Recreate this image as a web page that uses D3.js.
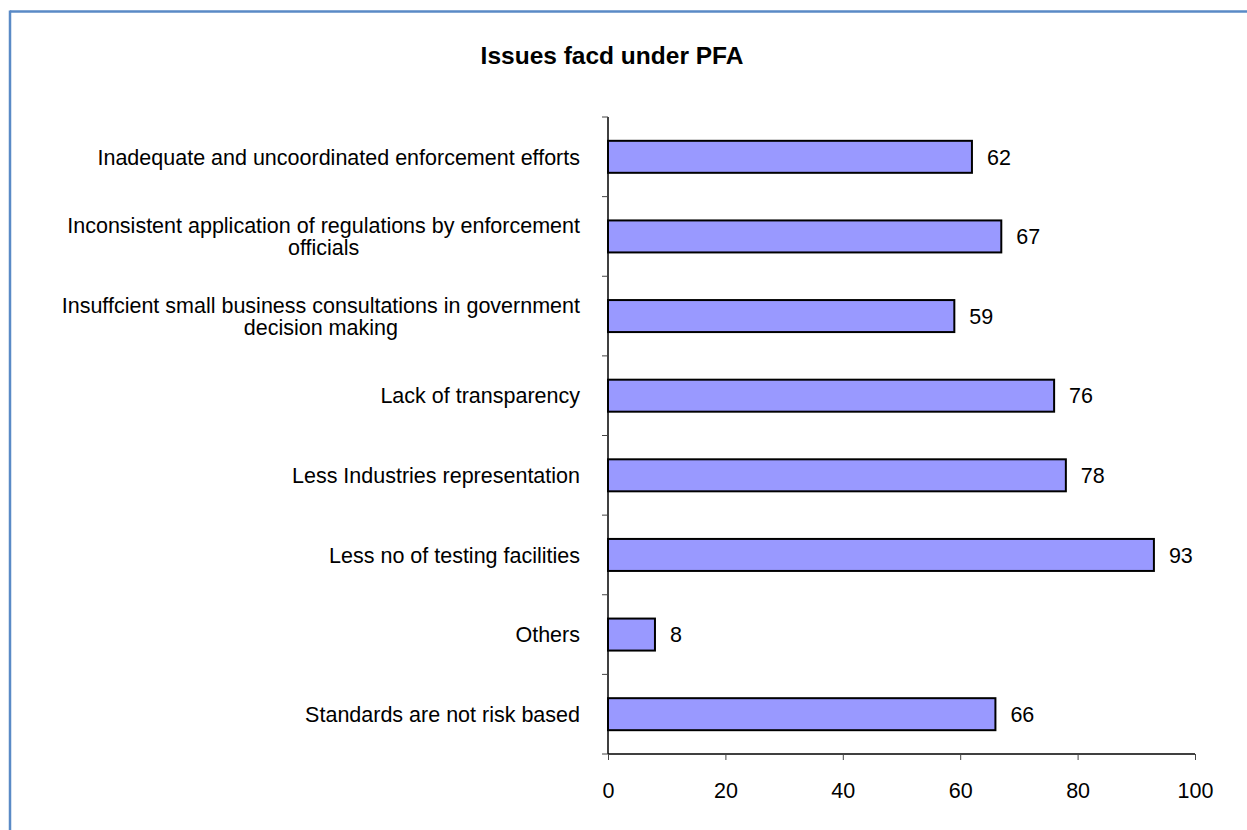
<!DOCTYPE html>
<html><head><meta charset="utf-8">
<script src="https://cdn.jsdelivr.net/npm/d3@7"></script>
<style>html,body{margin:0;padding:0;background:#fff;}svg{display:block;}</style>
</head><body>
<script>
const categories = [
  ["Inadequate and uncoordinated enforcement efforts"],
  ["Inconsistent application of regulations by enforcement", "officials"],
  ["Insuffcient small business consultations in government", "decision making"],
  ["Lack of transparency"],
  ["Less Industries representation"],
  ["Less no of testing facilities"],
  ["Others"],
  ["Standards are not risk based"]
];
const values = [62, 67, 59, 76, 78, 93, 8, 66];
const xTicks = [0, 20, 40, 60, 80, 100];
const title = "Issues facd under PFA";

(function () {
const W = 1247, H = 830;
const svg = d3.select("body").append("svg").attr("width", W).attr("height", H);
const font = "'Liberation Sans', Arial, sans-serif";
const fs = 21.5;

// border
svg.append("line").attr("x1", 10).attr("x2", W).attr("y1", 11.5).attr("y2", 11.5)
  .attr("stroke", "#5A8AC6").attr("stroke-width", 2.5);
svg.append("line").attr("x1", 10).attr("x2", 10).attr("y1", 10.5).attr("y2", H)
  .attr("stroke", "#5A8AC6").attr("stroke-width", 2.5);

const pL = 608, pR = 1195, pT = 117, pB = 754;
const x = d3.scaleLinear().domain([0, 100]).range([pL, pR]);
const y = d3.scaleBand().domain(d3.range(categories.length)).range([pT, pB]).paddingInner(0).paddingOuter(0);
const barH = 32;

svg.append("text").attr("x", 612).attr("y", 64).attr("text-anchor", "middle")
  .attr("font-family", font).attr("font-weight", "bold").attr("font-size", 24.5).text(title);

// bars
svg.selectAll("rect.bar").data(values).join("rect").attr("class", "bar")
  .attr("x", x(0)).attr("y", (d, i) => y(i) + y.bandwidth() / 2 - barH / 2)
  .attr("width", d => x(d) - x(0)).attr("height", barH)
  .attr("fill", "#9999FF").attr("stroke", "#000").attr("stroke-width", 2);

// value labels
svg.selectAll("text.val").data(values).join("text").attr("class", "val")
  .attr("x", d => x(d) + 15).attr("y", (d, i) => y(i) + y.bandwidth() / 2)
  .attr("dy", "0.36em").attr("font-family", font).attr("font-size", fs).text(d => d);

// y axis
const yAxisG = svg.append("g");
yAxisG.append("line").attr("x1", pL).attr("x2", pL).attr("y1", pT).attr("y2", pB).attr("stroke", "#000").attr("stroke-width", 1.5);
const yTickPos = d3.range(categories.length + 1).map(i => pT + i * y.step());
yAxisG.selectAll("line.t").data(yTickPos).join("line").attr("class", "t")
  .attr("x1", pL - 6).attr("x2", pL).attr("y1", d => d).attr("y2", d => d)
  .attr("stroke", "#444").attr("stroke-width", 1);

// category labels
categories.forEach((lines, i) => {
  const cy = y(i) + y.bandwidth() / 2;
  const lh = 22.5;
  const g = svg.append("text").attr("font-family", font).attr("font-size", fs).attr("fill", "#000");
  if (lines.length === 1) {
    g.append("tspan").attr("x", 580).attr("y", cy).attr("dy", "0.36em").attr("text-anchor", "end").text(lines[0]);
  } else {
    const tmp = svg.append("text").attr("font-family", font).attr("font-size", fs).text(lines[0]);
    const w = tmp.node().getComputedTextLength(); tmp.remove();
    const cx = 580 - w / 2;
    lines.forEach((ln, k) => {
      g.append("tspan").attr("x", cx).attr("y", cy + (k - (lines.length - 1) / 2) * lh)
        .attr("dy", "0.36em").attr("text-anchor", "middle").text(ln);
    });
  }
});

// x axis
const xAxis = d3.axisBottom(x).tickValues(xTicks).tickSize(6).tickPadding(23).tickFormat(d3.format("d"));
const xg = svg.append("g").attr("transform", `translate(0,${pB})`).call(xAxis);
xg.select(".domain").attr("stroke", "#000").attr("stroke-width", 1.5).attr("d", `M${pL},0H${pR}`);
xg.selectAll(".tick line").attr("stroke", "#444");
xg.selectAll(".tick text").attr("font-family", font).attr("font-size", fs).attr("fill", "#000");
})();
</script>
</body></html>
